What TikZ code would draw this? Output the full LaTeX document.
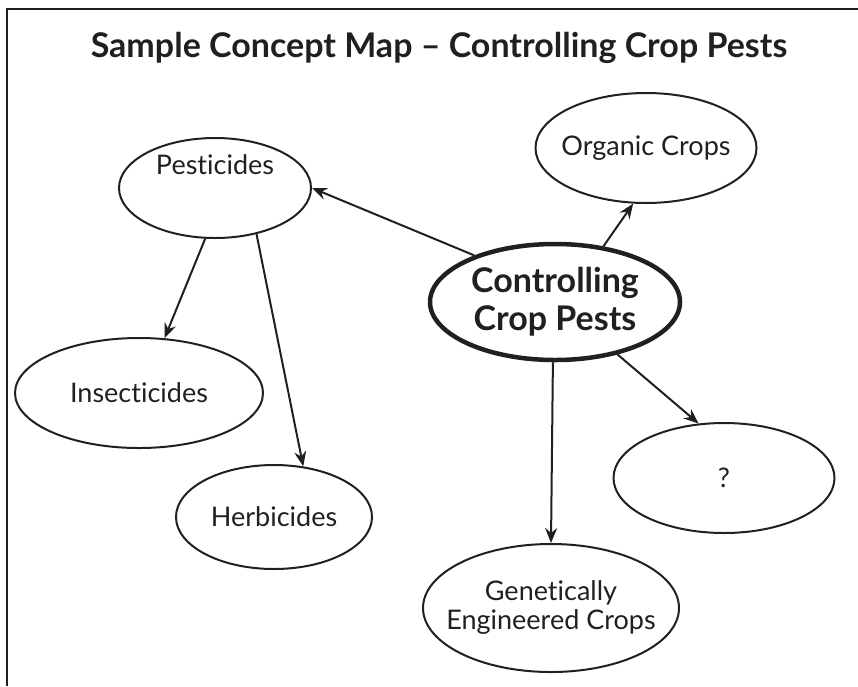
\documentclass[tikz,border=0pt]{standalone}
\usepackage{fontspec}
\setmainfont{Lato}[Ligatures={NoCommon,NoRare}]
\usetikzlibrary{shapes.geometric,arrows.meta}
\definecolor{ink}{HTML}{231F20}
\tikzset{
  concept/.style={ellipse,draw=ink,text=ink,line width=2pt,inner ysep=0pt,inner xsep=-30pt,align=center,
    font=\fontsize{27}{29}\selectfont},
  mainconcept/.style={concept,line width=4.5pt,font=\fontsize{34}{38}\selectfont\bfseries},
  link/.style={draw=ink,line width=2pt,-{Stealth[length=15pt,width=12pt,inset=5pt]}}
}
\begin{document}
\begin{tikzpicture}[x=1pt,y=-1pt]
  \useasboundingbox (0,0) rectangle (858,686);
  \draw[ink,line width=1.5pt] (7,686) -- (7,9) -- (858,9);
  \node[text=ink,anchor=base,font=\fontsize{34}{36}\selectfont\bfseries] (title) at (439,57)
    {Sample Concept Map -- Controlling Crop Pests};

  \node[mainconcept,minimum width=250pt,minimum height=116pt] (ctrl) at (555,302) {Controlling\\Crop Pests};
  \node[concept,minimum width=192pt,minimum height=100pt] (pest) at (215,188) {\raisebox{14pt}[0pt][0pt]{Pesticides}};
  \node[concept,minimum width=221pt,minimum height=110pt] (organic) at (646,148) {Organic Crops};
  \node[concept,minimum width=248pt,minimum height=110pt] (insect) at (139,393) {Insecticides};
  \node[concept,minimum width=196pt,minimum height=104pt] (herb) at (274,517) {Herbicides};
  \node[concept,minimum width=221pt,minimum height=110pt] (unknown) at (724,478) {?};
  \node[concept,minimum width=256pt,minimum height=128pt] (gec) at (551,608) {Genetically\\Engineered Crops};

  \draw[link] (ctrl.150) -- (pest.east);
  \draw[link] (ctrl.49) -- (organic.257);
  \draw[link] (pest.259) -- (insect.65);
  \draw[link] (pest.312) -- (herb.60);
  \draw[link] (ctrl.268) -- (gec.north);
  \draw[link] (ctrl.320) -- (unknown.115);
\end{tikzpicture}
\end{document}
